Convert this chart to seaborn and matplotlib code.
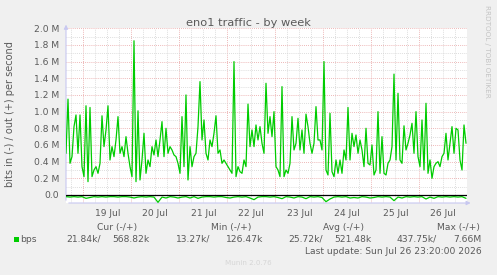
import numpy as np
import pandas as pd
import matplotlib
matplotlib.use("Agg")
import matplotlib.pyplot as plt
import matplotlib.dates as mdates
from matplotlib.patches import Rectangle
import seaborn as sns

# hourly "out" traffic, Mbit/s, last sample = last update
out_mbps = [
    0.50, 1.15, 0.38, 0.46, 0.82, 0.96, 0.50, 0.96, 0.34, 0.22,
    1.07, 0.16, 1.05, 0.22, 0.30, 0.34, 0.26, 0.38, 0.95, 0.58,
    0.78, 1.07, 0.42, 0.58, 0.46, 0.66, 0.94, 0.50, 0.58, 0.46,
    0.70, 0.50, 0.34, 0.22, 1.85, 0.16, 1.01, 0.18, 0.42, 0.74,
    0.26, 0.42, 0.34, 0.58, 0.48, 0.66, 0.46, 0.66, 0.88, 0.46,
    0.80, 0.50, 0.58, 0.54, 0.48, 0.46, 0.38, 0.26, 0.94, 0.34,
    1.20, 0.18, 0.58, 0.34, 0.46, 0.50, 0.82, 1.36, 0.66, 0.90,
    0.50, 0.42, 0.66, 0.58, 0.74, 0.95, 0.50, 0.54, 0.38, 0.42,
    0.38, 0.34, 0.30, 0.26, 1.60, 0.22, 0.34, 0.28, 0.26, 0.42,
    0.34, 1.09, 0.58, 0.78, 0.58, 0.84, 0.66, 0.82, 0.62, 0.50,
    1.34, 0.74, 0.94, 0.70, 1.00, 0.34, 0.30, 0.22, 1.30, 0.22,
    0.30, 0.26, 0.38, 0.94, 0.54, 0.62, 0.92, 0.54, 0.78, 0.50,
    0.97, 0.82, 0.62, 0.50, 0.62, 1.06, 0.66, 0.66, 0.54, 1.60,
    0.30, 0.24, 0.98, 0.28, 0.22, 0.42, 0.26, 0.42, 0.26, 0.54,
    0.42, 1.05, 0.42, 0.74, 0.58, 0.72, 0.50, 0.66, 0.54, 0.34,
    0.80, 0.38, 0.36, 0.60, 0.24, 0.30, 1.00, 0.26, 0.70, 0.26,
    0.24, 0.38, 0.42, 0.58, 1.45, 0.42, 1.22, 0.42, 0.38, 0.83,
    0.54, 0.62, 0.72, 0.86, 0.50, 1.00, 0.46, 0.34, 0.90, 0.30,
    1.10, 0.26, 0.42, 0.20, 0.34, 0.38, 0.40, 0.34, 0.46, 0.50,
    0.74, 0.42, 0.62, 0.82, 0.50, 0.80, 0.78, 0.42, 0.30, 0.84,
    0.62,
]

# 2-hourly "in" traffic (drawn negative), Mbit/s
in_mbps = [
    -0.020, -0.025, -0.020, -0.025, -0.020, -0.040, -0.030, -0.020, -0.025, -0.020,
    -0.025, -0.020, -0.020, -0.025, -0.020, -0.020, -0.025, -0.036, -0.025, -0.020,
    -0.025, -0.020, -0.025, -0.088, -0.025, -0.036, -0.020, -0.025, -0.036, -0.025,
    -0.020, -0.036, -0.020, -0.040, -0.025, -0.020, -0.020, -0.025, -0.020, -0.020,
    -0.030, -0.036, -0.025, -0.020, -0.025, -0.020, -0.036, -0.056, -0.025, -0.020,
    -0.020, -0.025, -0.020, -0.030, -0.044, -0.020, -0.025, -0.036, -0.020, -0.025,
    -0.044, -0.020, -0.025, -0.020, -0.030, -0.080, -0.048, -0.025, -0.020, -0.025,
    -0.020, -0.036, -0.030, -0.036, -0.020, -0.025, -0.036, -0.030, -0.020, -0.025,
    -0.020, -0.025, -0.068, -0.025, -0.036, -0.020, -0.025, -0.020, -0.025, -0.020,
    -0.048, -0.025, -0.040, -0.020, -0.025, -0.020, -0.025, -0.020, -0.025, -0.020,
    -0.040,
]

day_labels = ["19 Jul", "20 Jul", "21 Jul", "22 Jul", "23 Jul", "24 Jul", "25 Jul", "26 Jul"]
ytick_vals = [0.0, 0.2, 0.4, 0.6, 0.8, 1.0, 1.2, 1.4, 1.6, 1.8, 2.0]
ytick_labels = ["0.0", "0.2 M", "0.4 M", "0.6 M", "0.8 M", "1.0 M", "1.2 M",
                "1.4 M", "1.6 M", "1.8 M", "2.0 M"]

legend_headers = ["Cur (-/+)", "Min (-/+)", "Avg (-/+)", "Max (-/+)"]
legend_in = ["21.84k/", "13.27k/", "25.72k/", "437.75k/"]
legend_out = ["568.82k", "126.47k", "521.48k", "7.66M"]
last_update = "Last update: Sun Jul 26 23:20:00 2026"

end_time = pd.Timestamp("2026-07-26 23:20")
out_times = pd.date_range(end=end_time, periods=len(out_mbps), freq="1h")
in_times = pd.date_range(end=end_time, periods=len(in_mbps), freq="2h")
start_time = out_times[0]

sns.set_style("white")
plt.rcParams["font.family"] = ["DejaVu Sans"]
txt = "#5a5a5a"
green = "#00CC00"
red_grid = "#E8A0A0"
grey_grid = "#D2D2D2"
axis_col = "#C8C8F0"

W, H = 497, 275
fig = plt.figure(figsize=(W / 100, H / 100), dpi=100, facecolor="#F0F0F0")
ax = fig.add_axes([66 / W, 1 - 203 / H, 401 / W, 175 / H])
ax.set_facecolor("white")

sns.lineplot(x=out_times, y=np.array(out_mbps) * 1e6, ax=ax, color=green,
             lw=0.9, estimator=None, zorder=4)
sns.lineplot(x=in_times, y=np.array(in_mbps) * 1e6, ax=ax, color=green,
             lw=0.9, estimator=None, zorder=4)
ax.axhline(0, color="black", lw=0.9, zorder=5)

ax.set_xlim(start_time, end_time + pd.Timedelta("30min"))
ax.set_ylim(-0.096e6, 2.003e6)

# y grid
ax.set_yticks(np.array(ytick_vals) * 1e6, ytick_labels)
ax.set_yticks(np.arange(0.1, 2.0, 0.2) * 1e6, minor=True)
ax.yaxis.grid(True, which="major", color=red_grid, lw=0.6, ls=(0, (1, 1.5)))
ax.yaxis.grid(True, which="minor", color=grey_grid, lw=0.6, ls=(0, (1, 1.5)))
ax.tick_params(axis="y", which="both", length=0, pad=5, labelsize=6.6, labelcolor=txt)

# x grid: days red, every 6 h grey, labels at noon
days = pd.date_range(start_time.ceil("1D"), end_time, freq="1D")
ax.set_xticks(days)
ax.xaxis.grid(True, which="major", color=red_grid, lw=0.6, ls=(0, (1, 1.5)))
for t in pd.date_range(start_time.ceil("6h"), end_time, freq="6h"):
    if t.hour != 0:
        ax.axvline(t, color=grey_grid, lw=0.6, ls=(0, (1, 1.5)), zorder=0.5)
noons = days + pd.Timedelta("12h")
ax.set_xticks(noons, day_labels, minor=True)
ax.tick_params(axis="x", which="major", length=0, labelbottom=False)
ax.tick_params(axis="x", which="minor", length=0, pad=4, labelsize=6.6, labelcolor=txt)
ax.set_xlabel("")
ax.set_ylabel("")
for s in ax.spines.values():
    s.set_visible(False)

# axis arrows
ax.annotate("", xy=(0, 1.035), xytext=(0, 0), xycoords="axes fraction",
            arrowprops=dict(arrowstyle="-|>", color=axis_col, lw=0.8, mutation_scale=6))
ax.annotate("", xy=(1.016, 0), xytext=(0, 0), xycoords="axes fraction",
            arrowprops=dict(arrowstyle="-|>", color=axis_col, lw=0.8, mutation_scale=6))


def px(x, y):
    return x / W, 1 - y / H


fig.text(*px(248, 26.5), "eno1 traffic - by week", ha="center", va="baseline",
         fontsize=8.2, color=txt)
fig.text(*px(10, 114), "bits in (-) / out (+) per second", rotation=90,
         ha="center", va="center", fontsize=7, color=txt)
fig.text(*px(487, 51), "RRDTOOL / TOBI OETIKER", rotation=270, ha="center",
         va="center", fontsize=5.2, color="#C4C4C4")

head_right = [137, 251, 364, 480]
in_right = [101, 210, 323, 437]
out_right = [150, 263, 372, 482]
for i in range(4):
    fig.text(*px(head_right[i], 230), legend_headers[i], ha="right", va="baseline",
             fontsize=6.6, color=txt)
    fig.text(*px(in_right[i], 241.7), legend_in[i], ha="right", va="baseline",
             fontsize=6.6, color=txt)
    fig.text(*px(out_right[i], 241.7), legend_out[i], ha="right", va="baseline",
             fontsize=6.6, color=txt)
fig.add_artist(Rectangle(px(14, 242), 5.3 / W, 5 / H, transform=fig.transFigure,
                         color=green, lw=0))
fig.text(*px(20.5, 241.7), "bps", ha="left", va="baseline", fontsize=6.6, color=txt)
fig.text(*px(482, 254), last_update, ha="right", va="baseline", fontsize=6.6, color=txt)
fig.text(*px(248, 265), "Munin 2.0.76", ha="center", va="baseline", fontsize=5.1,
         color="#D6D6D6")

fig.savefig("out.png", dpi=100, facecolor=fig.get_facecolor())
